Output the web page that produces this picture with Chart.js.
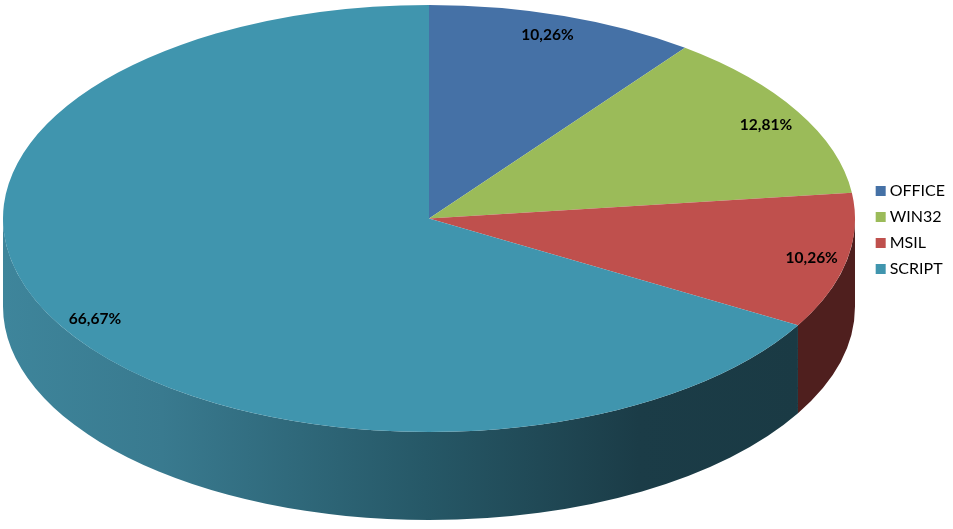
<!DOCTYPE html>
<html>
<head>
<meta charset="utf-8">
<style>
  html, body { margin: 0; padding: 0; background: #fff; }
  canvas { display: block; }
</style>
<script src="https://cdn.jsdelivr.net/npm/chart.js@4"></script>
</head>
<body>
<canvas id="pie" width="953" height="529"></canvas>
<script>
const categories = ["OFFICE", "WIN32", "MSIL", "SCRIPT"];
const shares = [10.26, 12.81, 10.26, 66.67];
const sliceColors = ["#4571a6", "#9bbb59", "#bf504d", "#4095ae"];

// look of the tilted pie
const centerX = 429;
const centerY = 218.5;
const radiusX = 426;
const radiusY = 213.5;
const depth = 88;
const labelRadius = 0.9;
// small per slice nudges, excel places these by "best fit"
const labelNudge = [
	[-3, -1],
	[5, 3],
	[7, 1],
	[-2, 4],
];

// side wall fill per slice, left to right
const sideStops = [
	[[0, "#2b4469"]],
	[[0, "#5e7136"]],
	[[0, "#4f1f1e"]],
	[
		[0, "#3e859b"],
		[0.2, "#397a8f"],
		[0.53, "#265867"],
		[0.8, "#1b3c47"],
		[1, "#1a3a44"],
	],
];

const tiltedPie = {
	id: "tiltedPie",

	beforeDatasetsDraw(chart) {
		const ctx = chart.ctx;
		const squash = radiusY / radiusX;
		const arcs = chart.getDatasetMeta(0).data;

		ctx.save();
		arcs.forEach((arc, i) => {
			// only the front half of the pie shows a wall
			const from = Math.max(arc.startAngle, 0);
			const to = Math.min(arc.endAngle, Math.PI);
			if (to <= from) return;

			const grad = ctx.createLinearGradient(3, 0, 798, 0);
			sideStops[i].forEach((s) => grad.addColorStop(s[0], s[1]));
			ctx.fillStyle = grad;

			ctx.beginPath();
			ctx.ellipse(centerX, centerY, radiusX, radiusY, 0, from, to);
			ctx.ellipse(centerX, centerY + depth, radiusX, radiusY, 0, to, from, true);
			ctx.closePath();
			ctx.fill();
		});
		ctx.restore();

		const first = arcs[0];
		ctx.save();
		ctx.translate(centerX, centerY);
		ctx.scale(1, squash);
		ctx.translate(-first.x, -first.y);
	},

	afterDatasetsDraw(chart) {
		const ctx = chart.ctx;
		ctx.restore();

		ctx.save();
		ctx.font = "bold 15.5px Lato";
		ctx.fillStyle = "#000";
		ctx.textAlign = "center";
		ctx.textBaseline = "middle";
		chart.getDatasetMeta(0).data.forEach((arc, i) => {
			const mid = (arc.startAngle + arc.endAngle) / 2;
			const x = centerX + Math.cos(mid) * radiusX * labelRadius + labelNudge[i][0];
			const y = centerY + Math.sin(mid) * radiusY * labelRadius + labelNudge[i][1];
			ctx.fillText(shares[i].toFixed(2).replace(".", ",") + "%", x, y);
		});
		ctx.restore();
	},
};

new Chart(document.getElementById("pie").getContext("2d"), {
	type: "pie",
	data: {
		labels: categories,
		datasets: [
			{
				data: shares,
				backgroundColor: sliceColors,
				borderWidth: 0,
				radius: radiusX,
				clip: false,
			},
		],
	},
	options: {
		responsive: false,
		animation: false,
		layout: { padding: { bottom: 69, right: -2 } },
		plugins: {
			tooltip: { enabled: false },
			legend: {
				position: "right",
				labels: {
					// narrow box width pulls the text closer to the square
					usePointStyle: true,
					pointStyle: "rect",
					boxWidth: 2,
					boxHeight: 10,
					padding: 10,
					color: "#000",
					font: { family: "Lato", size: 16 },
				},
			},
		},
	},
	plugins: [tiltedPie],
});
</script>
</body>
</html>
